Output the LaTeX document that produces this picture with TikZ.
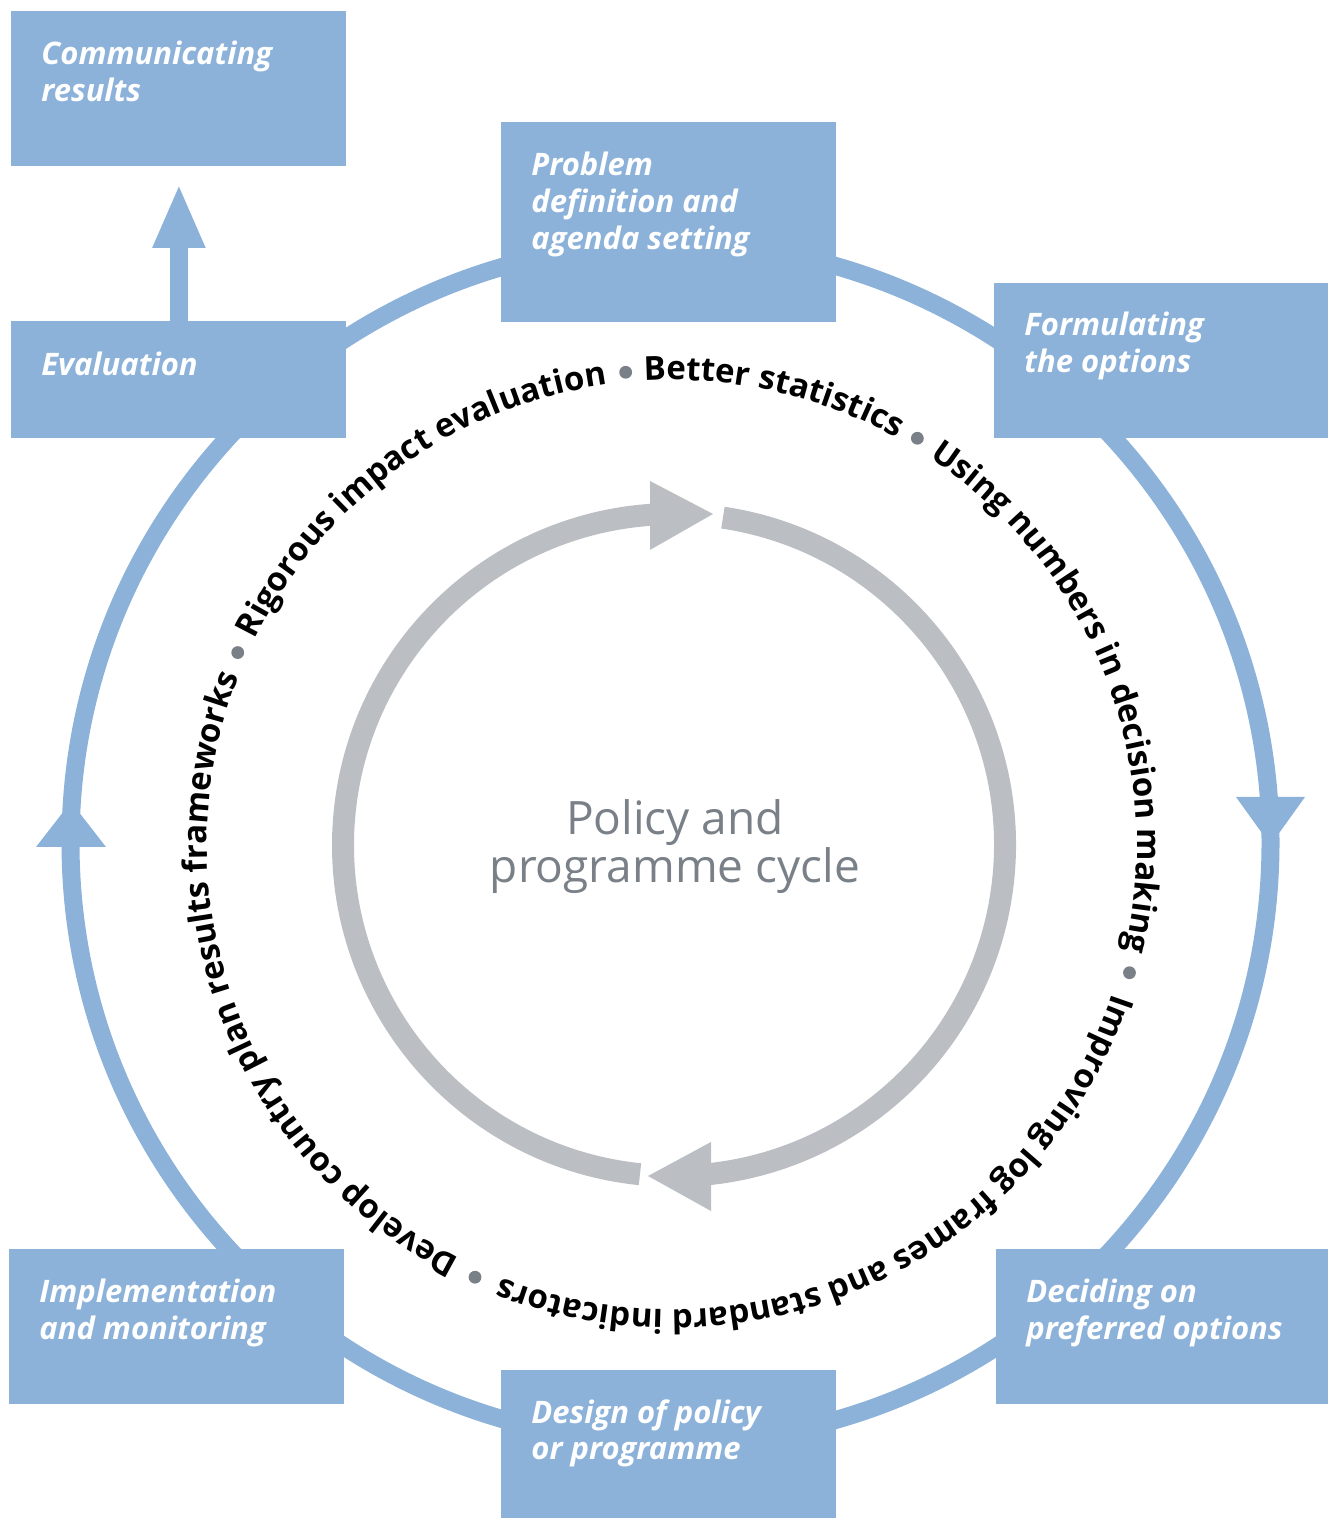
\documentclass[tikz,border=0pt]{standalone}
\usepackage{fontspec}
\setmainfont{Open Sans}
\usetikzlibrary{decorations.text,arrows.meta,calc}
\definecolor{cycblue}{RGB}{140,178,218}
\definecolor{cycgrey}{RGB}{187,191,195}
\definecolor{txtgrey}{RGB}{122,128,135}
\newcommand\ringfont{\bfseries\fontsize{16.5pt}{20pt}\selectfont}
\begin{document}
\begin{tikzpicture}[x=0.5pt,y=0.5pt,
  stagebox/.style={fill=cycblue, draw=none, inner sep=0pt, anchor=north west},
  stagelabel/.style={anchor=base west, align=left, inner sep=0pt, text=white,
    font=\bfseries\itshape\fontsize{15.5pt}{18.3pt}\selectfont},
  ringdot/.style={circle, fill=txtgrey, draw=none, inner sep=0pt, minimum size=6.4pt},
  blueline/.style={draw=cycblue, line width=9pt},
  greyline/.style={draw=cycgrey, line width=11pt},
  ringtext/.style={decorate, decoration={text along path, text align=center, text color=black}}]
\useasboundingbox (0,0) rectangle (1328,1518);

% outer cycle
\coordinate (O) at (670.5,675);
\draw[blueline] (O) circle[radius=600];
\fill[cycblue] (1270.5,673) -- (1236,721) -- (1305,721) -- cycle;
\fill[cycblue] (71,716) -- (36,671) -- (106,671) -- cycle;

% boxes
\node[stagebox, minimum width=167.5pt, minimum height=77.5pt] (comm) at (11,1507) {};
\node[stagebox, minimum width=167.5pt, minimum height=100pt] (prob) at (501,1396) {};
\node[stagebox, minimum width=167pt, minimum height=77.5pt] (form) at (994,1235) {};
\node[stagebox, minimum width=167.5pt, minimum height=58.5pt] (eval) at (11,1197) {};
\node[stagebox, minimum width=167.5pt, minimum height=77.5pt] (impl) at (9,269) {};
\node[stagebox, minimum width=166pt, minimum height=77.5pt] (deci) at (996,269) {};
\node[stagebox, minimum width=167.5pt, minimum height=74pt] (desi) at (501,148) {};

% labels: base anchor is the baseline of the last line
\node[stagelabel] (commt) at ($(comm.north west)+(30,-90.6)$) {Communicating\\results};
\node[stagelabel] (probt) at ($(prob.north west)+(30,-127.2)$) {Problem\\definition and\\agenda setting};
\node[stagelabel] (formt) at ($(form.north west)+(30,-89.6)$) {Formulating\\the options};
\node[stagelabel] (evalt) at ($(eval.north west)+(30,-54.5)$) {Evaluation};
\node[stagelabel] (implt) at ($(impl.north west)+(30,-90.6)$) {Implementation\\and monitoring};
\node[stagelabel] (decit) at ($(deci.north west)+(30,-90.6)$) {Deciding on\\preferred options};
\node[stagelabel] (desit) at ($(desi.north west)+(30,-90)$) {Design of policy\\or programme};

\draw[blueline, -{Triangle[length=32pt,width=24pt]}, shorten >=8.5pt] (eval.north) -- (comm.south);

% inner grey cycle
\coordinate (G) at (674,673);
\draw[greyline] ($(G)+(81.5:331)$) arc[start angle=81.5, end angle=-86, radius=331];
\draw[greyline] ($(G)+(264.1:331)$) arc[start angle=264.1, end angle=92, radius=331];
\fill[cycgrey] (648,342) -- (711,376) -- (711,307) -- cycle;
\fill[cycgrey] (713,1004) -- (650,1037) -- (650,968) -- cycle;

\node[align=center, anchor=base, inner sep=0pt, text=txtgrey,
  font=\fontsize{23pt}{24pt}\selectfont] (title) at (675,635) {Policy and\\programme cycle};

% ring of texts
\coordinate (R) at (672,673);
\path[ringtext, decoration={text={|\ringfont|Better statistics}}]
  ($(R)+(94.4:465)$) arc[start angle=94.4, end angle=60.1, radius=465];
\path[ringtext, decoration={text={|\ringfont|Using numbers in decision making}}]
  ($(R)+(57.7:465)$) arc[start angle=57.7, end angle=-14.4, radius=465];
\path[ringtext, decoration={text={|\ringfont|Improving log frames and standard indicators}}]
  ($(R)+(-16.8:465)$) arc[start angle=-16.8, end angle=-113.3, radius=465];
\path[ringtext, decoration={text={|\ringfont|Develop country plan results frameworks}}]
  ($(R)+(-115.7:465)$) arc[start angle=-115.7, end angle=-202.7, radius=465];
\path[ringtext, decoration={text={|\ringfont|Rigorous impact evaluation}}]
  ($(R)+(154.9:465)$) arc[start angle=154.9, end angle=96.8, radius=465];

\node[ringdot] (d1) at ($(R)+(95.6:475)$) {};
\node[ringdot] (d2) at ($(R)+(58.9:475)$) {};
\node[ringdot] (d3) at ($(R)+(-15.6:475)$) {};
\node[ringdot] (d4) at ($(R)+(-114.5:475)$) {};
\node[ringdot] (d5) at ($(R)+(156.1:475)$) {};
\end{tikzpicture}
\end{document}
